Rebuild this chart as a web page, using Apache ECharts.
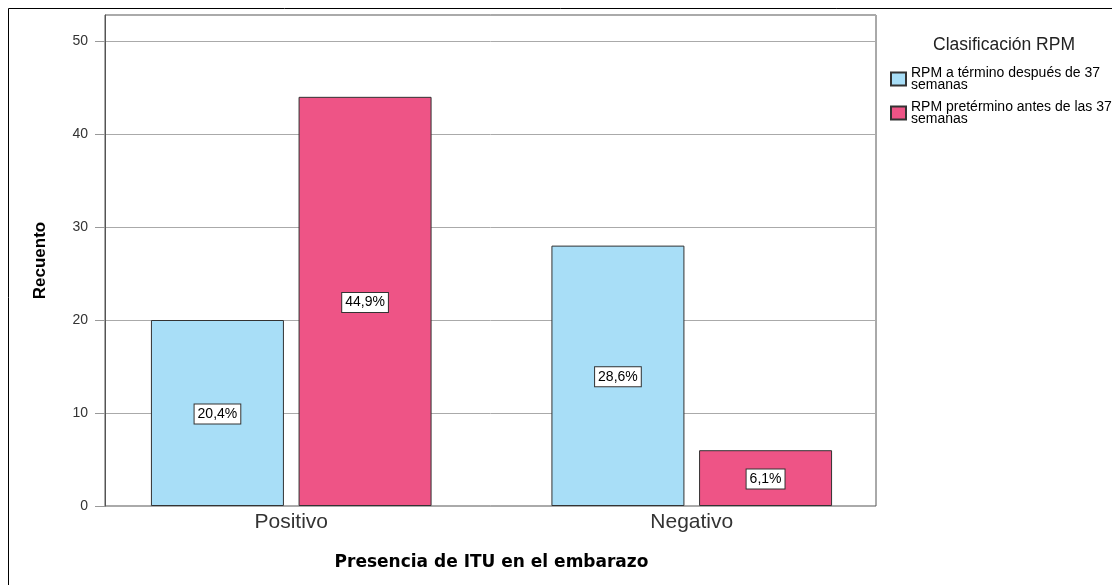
<!DOCTYPE html>
<html>
<head>
<meta charset="utf-8">
<script src="https://cdn.jsdelivr.net/npm/echarts@6/dist/echarts.min.js"></script>
<style>
    html, body { margin: 0; padding: 0; background: #fff; }
    #chart { width: 1112px; height: 585px; }
</style>
</head>
<body>
<div id="chart"></div>
<script>
// Data
// ------------------------------

var categories = ['Positivo', 'Negativo'];
var seriesNames = ['RPM a término después de 37 semanas', 'RPM pretérmino antes de las 37 semanas'];
var legendText = ['RPM a término después de 37\nsemanas', 'RPM pretérmino antes de las 37\nsemanas'];
var terminoCounts = [20, 28];
var preterminoCounts = [44, 6];
var terminoPct = ['20,4%', '28,6%'];
var preterminoPct = ['44,9%', '6,1%'];
var yTicks = [0, 10, 20, 30, 40, 50];


// Setup
// ------------------------------

var chart_element = document.getElementById('chart');
var chart = echarts.init(chart_element);

var font = 'Liberation Sans, Arial, sans-serif';
var yMax = 52.8;   // frame reaches a bit above the 50 line

// Label box inside the bars
var boxLabel = function(texts) {
    return {
        show: true,
        position: 'inside',
        offset: [0, 1],
        formatter: function(p) { return texts[p.dataIndex]; },
        color: '#000',
        fontFamily: font,
        fontSize: 14,
        backgroundColor: '#fff',
        borderColor: '#333',
        borderWidth: 1,
        padding: [3, 3, 2, 3]
    };
};

var legendMap = {};
seriesNames.forEach(function(n, i) { legendMap[n] = legendText[i]; });

chart.setOption({
    animation: false,
    textStyle: { fontFamily: font },

    title: {
        text: 'Clasificación RPM',
        left: 928,
        top: 31,
        textStyle: { fontSize: 17.5, fontWeight: 'normal', color: '#222', fontFamily: font }
    },

    legend: {
        orient: 'vertical',
        left: 885,
        top: 61,
        itemWidth: 15,
        itemHeight: 13,
        itemGap: 8,
        icon: 'rect',
        data: seriesNames,
        formatter: function(name) { return legendMap[name]; },
        textStyle: { fontSize: 14, lineHeight: 12, color: '#000', fontFamily: font }
    },

    // Frame grid with y axis, and bar grid
    grid: [
        { left: 105, right: 236, top: 15, bottom: 79, show: true, borderColor: '#555', borderWidth: 1 },
        { left: 91, right: 220, top: 15, bottom: 79 }
    ],

    xAxis: [
        { type: 'value', gridIndex: 0, show: false, min: 0, max: 1 },
        {
            type: 'category',
            gridIndex: 1,
            data: categories,
            axisLine: { show: false },
            axisTick: { show: false },
            axisLabel: { fontSize: 21, color: '#333', margin: 6, fontFamily: font },
            name: 'Presencia de ITU en el embarazo',
            nameLocation: 'middle',
            nameGap: 48,
            nameTextStyle: { fontSize: 17, fontWeight: 'bold', color: '#000', fontFamily: 'DejaVu Sans' }
        }
    ],

    yAxis: [
        {
            type: 'value',
            gridIndex: 0,
            min: yTicks[0],
            max: yMax,
            interval: 10,
            axisLine: { show: true, lineStyle: { color: '#555' } },
            axisTick: { show: true, length: 10, lineStyle: { color: '#999' } },
            axisLabel: {
                fontSize: 14, color: '#333', margin: 17, fontFamily: font,
                showMaxLabel: false,
                formatter: function(v) { return yTicks.indexOf(v) >= 0 ? v : ''; }
            },
            splitLine: { show: true, lineStyle: { color: '#aaa' } },
            name: 'Recuento',
            nameLocation: 'middle',
            nameGap: 56,
            nameTextStyle: { fontSize: 17, fontWeight: 'bold', color: '#000', fontFamily: font }
        },
        { type: 'value', gridIndex: 1, show: false, min: 0, max: yMax }
    ],

    series: [
        {
            name: seriesNames[0],
            type: 'bar',
            xAxisIndex: 1,
            yAxisIndex: 1,
            barWidth: 133,
            barGap: '11%',
            data: terminoCounts,
            itemStyle: { color: '#a8def7', borderColor: '#333', borderWidth: 1 },
            label: boxLabel(terminoPct)
        },
        {
            name: seriesNames[1],
            type: 'bar',
            xAxisIndex: 1,
            yAxisIndex: 1,
            barWidth: 133,
            barGap: '11%',
            data: preterminoCounts,
            itemStyle: { color: '#ee5486', borderColor: '#333', borderWidth: 1 },
            label: boxLabel(preterminoPct)
        }
    ],

    // Outer frame
    graphic: [{
        type: 'rect',
        silent: true,
        shape: { x: 8.5, y: 8.5, width: 1200, height: 700 },
        style: { fill: 'none', stroke: '#000', lineWidth: 1 }
    }]
});
</script>
</body>
</html>
